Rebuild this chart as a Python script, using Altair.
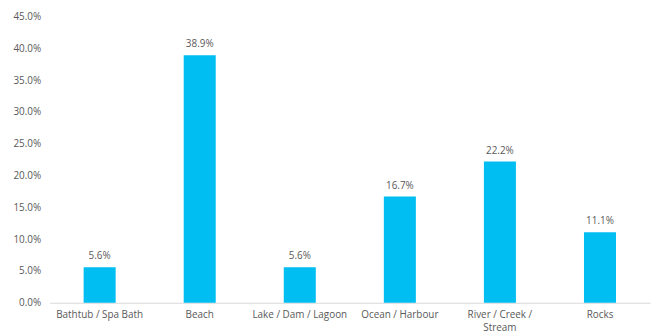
import altair as alt
import pandas as pd

categories = ["Bathtub / Spa Bath", "Beach", "Lake / Dam / Lagoon", "Ocean / Harbour", "River / Creek / Stream", "Rocks"]
values = [0.056, 0.389, 0.056, 0.167, 0.222, 0.111]
y_ticks = [0.0, 0.05, 0.10, 0.15, 0.20, 0.25, 0.30, 0.35, 0.40, 0.45]

df = pd.DataFrame({"category": categories, "value": values})

x = alt.X("category:N", sort=categories, title=None,
          scale=alt.Scale(paddingInner=0.68, paddingOuter=0.34),
          axis=alt.Axis(labelAngle=0, ticks=False, domainColor="#d9d9d9", domainWidth=1,
                        labelColor="#595959", labelFont="Open Sans", labelFontSize=10,
                        labelPadding=7, labelLimit=200, labelLineHeight=13, labelBaseline="top",
                        labelExpr="datum.value == 'River / Creek / Stream' ? ['River / Creek /', 'Stream'] : datum.value"))
y = alt.Y("value:Q", title=None,
          scale=alt.Scale(domain=[0, 0.45], nice=False),
          axis=alt.Axis(format=".1%", values=y_ticks, grid=False, ticks=False,
                        domain=False, labelColor="#595959", labelFont="Open Sans", labelFontSize=10,
                        labelPadding=9, labelOverlap=False))

base = alt.Chart(df).encode(x=x, y=y)
bars = base.mark_bar(color="#00BEF2")
text = base.mark_text(baseline="bottom", dy=-6, font="Open Sans", fontSize=10, color="#595959").encode(
    text=alt.Text("value:Q", format=".1%"))

chart = (bars + text).properties(
    width=606, height=289, autosize="none",
    padding={"left": 42, "top": 7, "right": 2, "bottom": 30},
    background="white"
).configure_view(strokeWidth=0, stroke=None)

chart.save("out.html", embed_options={"renderer": "svg", "actions": False})
